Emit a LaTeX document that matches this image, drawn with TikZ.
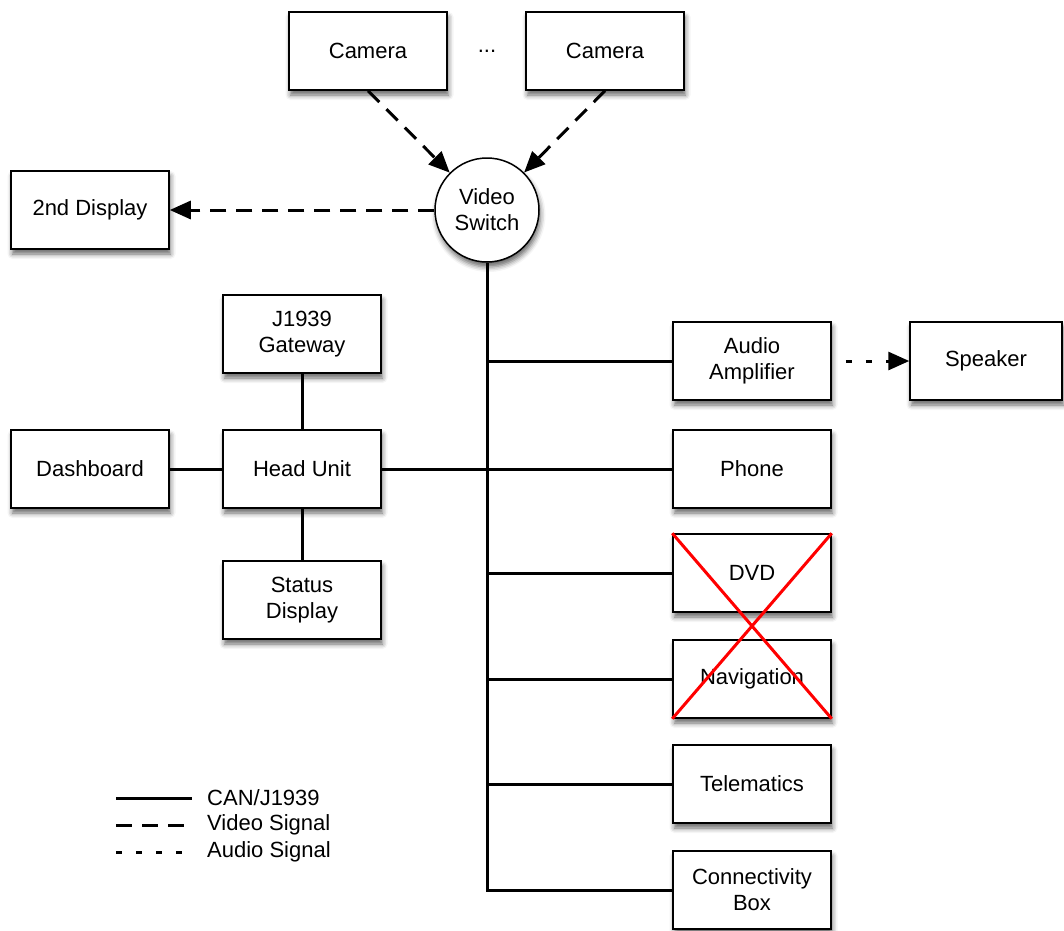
\documentclass[tikz,border=0pt]{standalone}
\usepackage{fontspec}
\setmainfont{Liberation Sans}
\usetikzlibrary{arrows.meta,shadows.blur}
\begin{document}
\begin{tikzpicture}[x=1pt,y=-1pt,
  every node/.style={font=\fontsize{22}{26}\selectfont},
  softshadow/.style={blur shadow={shadow xshift=1.5pt,shadow yshift=-5pt,shadow blur radius=5pt,shadow opacity=60}},
  unit/.style={draw=black,line width=1.5pt,fill=white,minimum width=158pt,minimum height=78pt,
    inner sep=0pt,align=center,softshadow},
  hub/.style={draw=black,line width=1.5pt,fill=white,circle,minimum size=104pt,inner sep=0pt,align=center,
    softshadow},
  can/.style={line width=3pt},
  video/.style={line width=3pt,dash pattern=on 16pt off 10pt},
  audio/.style={line width=3pt,dash pattern=on 6pt off 14pt},
  tip/.style={-{Triangle[length=21pt,width=18pt]}},
  cross/.style={red,line width=3pt},
  legendtext/.style={anchor=west,inner sep=0pt}]
\useasboundingbox (0,0) rectangle (1064,930);

% devices
\node[unit] (cam1) at (368,51) {Camera};
\node[unit] (cam2) at (605,51) {Camera};
\node (dots) at (487,51) {...};
\node[hub] (vs) at (487,210) {Video\\Switch};
\node[unit] (disp2) at (90,210) {2nd Display};
\node[unit] (gw) at (302,334) {J1939\\Gateway};
\node[unit] (dash) at (90,469) {Dashboard};
\node[unit] (hu) at (302,469) {Head Unit};
\node[unit] (sd) at (302,600) {Status\\Display};
\node[unit] (amp) at (752,361) {Audio\\Amplifier};
\node[unit,minimum width=152pt] (spk) at (986,361) {Speaker};
\node[unit] (phone) at (752,469) {Phone};
\node[unit] (dvd) at (752,573) {DVD};
\node[unit] (nav) at (752,679) {Navigation};
\node[unit] (tele) at (752,784) {Telematics};
\node[unit] (conn) at (752,890) {Connectivity\\Box};

% video links
\draw[video,tip] (cam1.south) -- (vs);
\draw[video,tip] (cam2.south) -- (vs);
\draw[video,tip] (vs.west) -- (disp2.east);

% audio link
\draw[audio,tip,shorten <=14pt] (amp.east) -- (spk.west);

% CAN bus
\draw[can] (vs.south) -- (vs.south |- conn.west) -- (conn.west);
\draw[can] (vs.south |- amp.west) -- (amp.west);
\draw[can] (hu.east) -- (phone.west);
\draw[can] (vs.south |- dvd.west) -- (dvd.west);
\draw[can] (vs.south |- nav.west) -- (nav.west);
\draw[can] (vs.south |- tele.west) -- (tele.west);
\draw[can] (gw.south) -- (hu.north);
\draw[can] (hu.south) -- (sd.north);
\draw[can] (dash.east) -- (hu.west);

% removed units
\draw[cross] (dvd.north west) -- (nav.south east);
\draw[cross] (dvd.north east) -- (nav.south west);

% legend
\coordinate (l1a) at (116,798); \coordinate (l1b) at (192,798);
\coordinate (l2a) at (116,825); \coordinate (l2b) at (192,825);
\coordinate (l3a) at (116,852); \coordinate (l3b) at (192,852);
\draw[can] (l1a) -- (l1b);
\draw[video] (l2a) -- (l2b);
\draw[audio] (l3a) -- (l3b);
\node[legendtext] (t1) at (207,798) {CAN/J1939};
\node[legendtext] (t2) at (207,825) {Video Signal};
\node[legendtext] (t3) at (207,852) {Audio Signal};
\end{tikzpicture}
\end{document}
